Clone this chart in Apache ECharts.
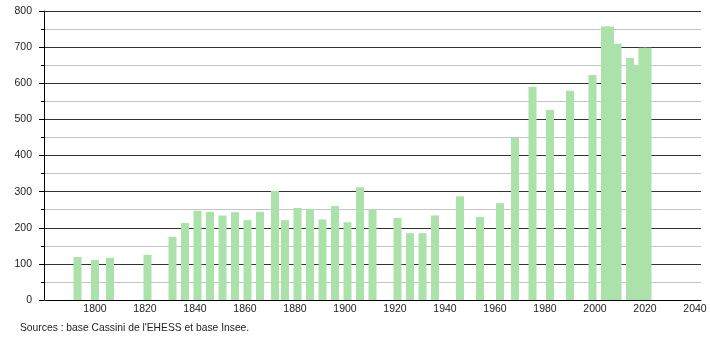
<!DOCTYPE html>
<html><head><meta charset="utf-8">
<script src="https://cdn.jsdelivr.net/npm/echarts@6/dist/echarts.min.js"></script>
<style>html,body{margin:0;padding:0;background:#fff}#c{width:710px;height:340px}</style>
</head><body><div id="c"></div>
<script>
const years = [1793,1800,1806,1821,1831,1836,1841,1846,1851,1856,1861,1866,1872,1876,1881,1886,1891,1896,1901,1906,1911,1921,1926,1931,1936,1946,1954,1962,1968,1975,1982,1990,1999,2004,2006,2009,2014,2016,2019,2021];
const population = [119,111,117,125,175,213,247,244,234,243,221,244,302,221,255,252,223,260,215,312,252,227,185,185,234,287,230,268,449,590,526,579,623,757,757,709,670,650,698,698];
const sourceText = "Sources : base Cassini de l'EHESS et base Insee.";

const chart = echarts.init(document.getElementById('c'), null, {renderer:'canvas'});
const font = 'Liberation Sans, Arial, sans-serif';
chart.setOption({
  animation:false,
  backgroundColor:'#fff',
  grid:{left:45,right:9,top:11,bottom:40,containLabel:false},
  xAxis:{type:'value',min:1780,max:2042.4,interval:20,
    axisLine:{show:true,onZero:false,lineStyle:{color:'#000',width:1}},
    axisTick:{show:false},
    splitLine:{show:false},
    axisLabel:{showMinLabel:false,showMaxLabel:false,color:'#222',fontFamily:font,fontSize:10.5,margin:4,
      formatter:v=>String(Math.round(v))}
  },
  yAxis:{type:'value',min:0,max:800,interval:100,offset:1,
    axisLine:{show:true,lineStyle:{color:'#000',width:1}},
    axisTick:{show:true,length:5,lineStyle:{color:'#000'}},
    minorTick:{show:true,splitNumber:2,length:3,lineStyle:{color:'#000'}},
    splitLine:{show:true,lineStyle:{color:'#333',width:1}},
    minorSplitLine:{show:true,lineStyle:{color:'#c4c4c4',width:1}},
    axisLabel:{color:'#222',fontFamily:font,fontSize:10.5,margin:12}
  },
  series:[{type:'bar',barWidth:8,
    data:years.map((y,i)=>[y,population[i]]),
    itemStyle:{color:'#aae2aa'},
    emphasis:{disabled:true}
  }],
  graphic:[{type:'text',left:20,top:323,style:{text:sourceText,fill:'#222',font:'10.3px '+font}}]
});
</script></body></html>
